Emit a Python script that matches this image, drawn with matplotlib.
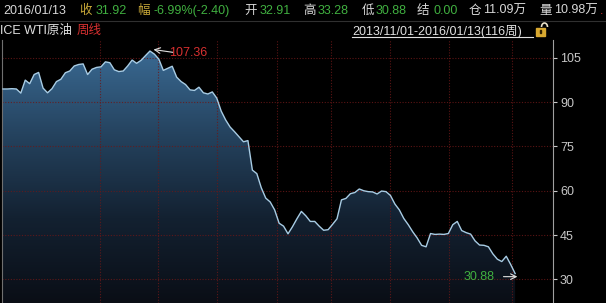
import numpy as np
import matplotlib.pyplot as plt
from matplotlib.colors import LinearSegmentedColormap
from matplotlib.patches import Rectangle, Arc

plt.rcParams['font.family'] = ['Liberation Sans', 'Noto Sans CJK SC', 'DejaVu Sans']

# weekly closes, ICE WTI, 2013/11/01 - 2016/01/13 (116 weeks)
prices = [
    94.5, 94.5, 94.6, 94.5, 93.1, 97.5, 96.3, 99.4, 100.1, 94.8,
    93.2, 94.6, 97.0, 97.8, 100.0, 100.6, 102.3, 102.8, 103.0, 99.4,
    101.2, 101.8, 102.0, 103.7, 103.4, 101.0, 100.4, 100.6, 102.3, 104.3,
    103.2, 104.2, 105.8, 107.36, 106.3, 104.6, 100.8, 101.5, 102.2, 98.5,
    97.0, 96.0, 94.2, 94.0, 95.1, 93.2, 92.8, 93.5, 91.4, 87.0,
    84.0, 81.6, 80.0, 78.3, 76.6, 77.0, 67.0, 65.8, 61.0, 57.5,
    56.2, 53.5, 49.0, 48.0, 45.4, 47.8, 50.5, 53.0, 51.5, 49.6,
    49.6, 48.0, 46.6, 46.8, 48.6, 50.5, 56.9, 57.4, 59.0, 59.4,
    60.6, 60.0, 59.7, 59.6, 58.9, 59.9, 59.7, 58.4, 55.5, 53.5,
    50.6, 48.5, 46.1, 44.0, 41.5, 41.0, 45.5, 45.2, 45.3, 45.2,
    45.5, 48.5, 49.6, 46.5, 45.8, 45.3, 43.0, 41.6, 41.5, 41.0,
    38.6, 36.8, 36.0, 37.8, 35.0, 31.92,
]
y_ticks = [30, 45, 60, 75, 90, 105]
grid_weeks = [21.8, 34.8, 48.1, 61.6, 73.7, 87.0, 100.2, 114.4]
high_label = "107.36"
high_week = 33
low_label = "30.88"
low_value = 30.88

header = [
    (3, "2016/01/13", "#d8d8d8"),
    (79, "收", "#c8a838"),
    (96, "31.92", "#40b040"),
    (137, "幅", "#c8a838"),
    (153, "-6.99%(-2.40)", "#40b040"),
    (244, "开", "#d8d8d8"),
    (260, "32.91", "#40b040"),
    (303, "高", "#d8d8d8"),
    (318, "33.28", "#40b040"),
    (362, "低", "#d8d8d8"),
    (376, "30.88", "#40b040"),
    (417, "结", "#d8d8d8"),
    (433, "0.00", "#40b040"),
    (469, "仓", "#d8d8d8"),
    (483, "11.09万", "#d8d8d8"),
    (539, "量", "#d8d8d8"),
    (554, "10.98万", "#d8d8d8"),
]

W, H = 606, 303
fig = plt.figure(figsize=(W / 100, H / 100), dpi=100, facecolor="black")

ax = fig.add_axes([2 / W, 0, 551 / W, 263 / H], facecolor="black")
x = np.arange(len(prices))

# gradient area under the line
cmap = LinearSegmentedColormap.from_list(
    "oil", ["#0a0e16", "#132131", "#25435f", "#3a6a93"])
grad = np.linspace(0, 1, 256).reshape(-1, 1)
img = ax.imshow(grad, cmap=cmap, origin="lower", aspect="auto",
                extent=(-0.22, 123.5, 21.95, 108), zorder=1)
area = ax.fill_between(x, prices, 21.95, color="none", zorder=1)
img.set_clip_path(area.get_paths()[0], transform=ax.transData)
ax.set_xlim(-0.22, 123.5)
ax.set_ylim(21.95, 111.1)

ax.plot(x, prices, color="#a8cce4", lw=1.0, zorder=3)

# dotted red grid
for v in y_ticks:
    ax.axhline(v, color="#6a1818", lw=0.8, ls=(0, (1, 1.5)), alpha=0.85, zorder=2)
for g in grid_weeks:
    ax.axvline(g, color="#6a1818", lw=0.8, ls=(0, (1, 1.5)), alpha=0.85, zorder=2)

ax.yaxis.tick_right()
ax.set_yticks(y_ticks)
ax.tick_params(axis="y", colors="#c8c8c8", labelsize=9, length=3, width=0.8, pad=2)
ax.set_xticks([])
for side in ["top", "bottom"]:
    ax.spines[side].set_visible(False)
ax.spines["right"].set_color("#a0a0a0")
ax.spines["left"].set_color("#707070")
ax.spines["right"].set_linewidth(0.8)
ax.spines["left"].set_linewidth(0.8)

# extreme value markers
ax.annotate("", xy=(high_week + 0.8, prices[high_week] + 0.5), xytext=(14, -2),
            textcoords="offset points",
            arrowprops=dict(arrowstyle="->", color="#e0e0e0", lw=0.8, shrinkA=0, shrinkB=0))
ax.annotate(high_label, xy=(high_week, prices[high_week]), xytext=(14, -1.5),
            textcoords="offset points", color="#d83030", fontsize=9, va="center")
last = len(prices) - 1
ax.annotate("", xy=(last + 0.5, low_value), xytext=(-10, 0),
            textcoords="offset points",
            arrowprops=dict(arrowstyle="->", color="#e0e0e0", lw=0.8, shrinkA=0, shrinkB=0))
ax.annotate(low_label, xy=(last, low_value), xytext=(-15, 0),
            textcoords="offset points", color="#40b040", fontsize=9,
            va="center", ha="right")

# header rows
for px, s, c in header:
    fig.text(px / W, 1 - 11 / H, s, color=c, fontsize=9, va="center", ha="left")
fig.text(600 / W, 1 - 11 / H, ".", color="#d83030", fontsize=9, va="center", ha="left")
fig.add_artist(plt.Line2D([0, 1], [1 - 21 / H, 1 - 21 / H], color="#303030", lw=0.8))
fig.text(0 / W, 1 - 31 / H, "ICE WTI原油", color="#e0e0e0", fontsize=9, va="center")
fig.text(77 / W, 1 - 31 / H, "周线", color="#d83030", fontsize=9, va="center")
fig.text(352 / W, 1 - 31 / H, "2013/11/01-2016/01/13(116周)", color="#e0e0e0",
         fontsize=9, va="center")
fig.add_artist(plt.Line2D([352 / W, 533 / W], [1 - 37 / H, 1 - 37 / H],
                          color="#e0e0e0", lw=0.8))

# open padlock icon (no font has it), drawn in pixel units
px = fig.dpi_scale_trans
fig.add_artist(Arc((544.5 / 100, (H - 27) / 100), 0.06, 0.08, theta1=0, theta2=180,
                   color="#e8e0c8", lw=1.2, transform=px))
fig.add_artist(Rectangle((536 / 100, (H - 36) / 100), 0.09, 0.075,
                         color="#d8a830", transform=px))
fig.add_artist(Rectangle((540 / 100, (H - 33) / 100), 0.01, 0.03,
                         color="#302000", transform=px))

fig.savefig("out.png", dpi=100, facecolor="black")
